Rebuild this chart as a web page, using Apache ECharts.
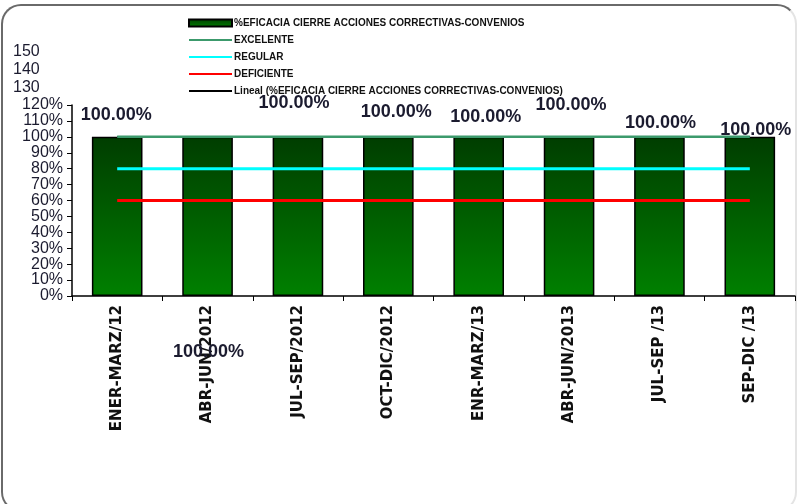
<!DOCTYPE html>
<html>
<head>
<meta charset="utf-8">
<script src="https://cdn.jsdelivr.net/npm/echarts@6/dist/echarts.min.js"></script>
<style>
  html, body { margin: 0; padding: 0; background: #fff; }
  .frame {
    position: absolute;
    left: 1px;
    top: 4px;
    width: 796px;
    height: 508px;
    border: 2px solid #6a6a6a;
    border-right-color: #e4e4e4;
    border-radius: 20px;
    box-sizing: border-box;
  }
  #chart { position: absolute; left: 0; top: 0; width: 799px; height: 504px; }
</style>
</head>
<body>
<div class="frame"></div>
<div id="chart"></div>
<script>
// categorias (trimestres)
const categories = ['ENER-MARZ/12', 'ABR-JUN/2012', 'JUL-SEP/2012', 'OCT-DIC/2012', 'ENR-MARZ/13', 'ABR-JUN/2013', 'JUL-SEP /13', 'SEP-DIC /13']
// % eficacia cierre acciones correctivas
const eficacia = [1, 1, 1, 1, 1, 1, 1, 1]
// metas
const excelente = [1, 1, 1, 1, 1, 1, 1, 1]
const regular = [0.8, 0.8, 0.8, 0.8, 0.8, 0.8, 0.8, 0.8]
const deficiente = [0.6, 0.6, 0.6, 0.6, 0.6, 0.6, 0.6, 0.6]
// linea de tendencia
const lineal = [1, 1, 1, 1, 1, 1, 1, 1]
// etiquetas extra del eje (sobre 120%)
const upperTicks = [1.3, 1.4, 1.5]

// desplazamiento de cada etiqueta de dato (como quedaron en el original)
const labelOffsets = [[-1, -8], [1, 229], [-4, -20], [8, -11], [7, -6], [2, -18], [1, 0], [6, 7]]

const serieName = '%EFICACIA CIERRE ACCIONES CORRECTIVAS-CONVENIOS'
const font = '"Liberation Sans", Arial, sans-serif'
const noSymbol = { opacity: 0 }

const chart = echarts.init(document.getElementById('chart'))

const option = {
  animation: false,
  textStyle: { fontFamily: font },
  legend: {
    orient: 'vertical',
    left: 183,
    top: 12,
    itemWidth: 43,
    itemHeight: 7,
    itemGap: 5,
    textStyle: { fontSize: 10, fontWeight: 'bold', color: '#111', lineHeight: 12, padding: [0, 0, 0, -3] },
    data: [
      { name: serieName, icon: 'rect' },
      { name: 'EXCELENTE', itemStyle: noSymbol },
      { name: 'REGULAR', itemStyle: noSymbol },
      { name: 'DEFICIENTE', itemStyle: noSymbol },
      { name: 'Lineal (' + serieName + ')', itemStyle: noSymbol }
    ]
  },
  grid: [
    { left: 72, right: 4, top: 105, bottom: 208 },
    { left: 72, right: 4, top: 52, height: 53 }
  ],
  xAxis: [
    {
      type: 'category',
      data: categories,
      axisLine: { lineStyle: { color: '#000', width: 1.5 } },
      axisTick: { show: true, length: 5, lineStyle: { color: '#000' } },
      axisLabel: {
        rotate: 90,
        interval: 0,
        margin: 9,
        fontSize: 15,
        fontFamily: '"DejaVu Sans", sans-serif',
        fontWeight: 'bold',
        color: '#111'
      }
    },
    { type: 'category', gridIndex: 1, data: categories, show: false }
  ],
  yAxis: [
    {
      type: 'value',
      min: 0,
      max: 1.2,
      interval: 0.1,
      axisLine: { show: true, lineStyle: { color: '#000', width: 1.5 } },
      axisTick: { show: true, length: 5, lineStyle: { color: '#000' } },
      splitLine: { show: false },
      axisLabel: {
        margin: 9,
        fontSize: 16,
        color: '#1b1b2f',
        formatter: v => Math.round(v * 100) + '%'
      }
    },
    {
      type: 'value',
      gridIndex: 1,
      min: 1.2,
      max: upperTicks[upperTicks.length - 1],
      interval: 0.1,
      axisLine: { show: false },
      axisTick: { show: false },
      splitLine: { show: false },
      axisLabel: {
        showMinLabel: false,
        align: 'left',
        margin: 59,
        fontSize: 16,
        color: '#1b1b2f',
        formatter: v => String(Math.round(v * 100))
      }
    }
  ],
  series: [
    {
      name: serieName,
      type: 'bar',
      barCategoryGap: '44%',
      data: eficacia.map((v, i) => ({
        value: v,
        label: { offset: labelOffsets[i] }
      })),
      itemStyle: {
        color: new echarts.graphic.LinearGradient(0, 0, 0, 1, [
          { offset: 0, color: '#003d00' },
          { offset: 1, color: '#008000' }
        ]),
        borderColor: '#000',
        borderWidth: 1.5
      },
      label: {
        show: true,
        position: 'top',
        distance: 5,
        fontSize: 18,
        fontWeight: 'bold',
        color: '#1b1b2f',
        formatter: p => (p.value * 100).toFixed(2) + '%'
      },
      z: 1
    },
    {
      name: 'Lineal (' + serieName + ')',
      type: 'line',
      data: lineal,
      symbol: 'none',
      lineStyle: { color: '#000', width: 1.5 },
      z: 3
    },
    {
      name: 'EXCELENTE',
      type: 'line',
      data: excelente,
      symbol: 'none',
      lineStyle: { color: '#3c9a6c', width: 2.5 },
      z: 4
    },
    {
      name: 'REGULAR',
      type: 'line',
      data: regular,
      symbol: 'none',
      lineStyle: { color: '#00ffff', width: 3 },
      z: 4
    },
    {
      name: 'DEFICIENTE',
      type: 'line',
      data: deficiente,
      symbol: 'none',
      lineStyle: { color: '#ff0000', width: 3 },
      z: 4
    }
  ]
}

chart.setOption(option)
</script>
</body>
</html>
